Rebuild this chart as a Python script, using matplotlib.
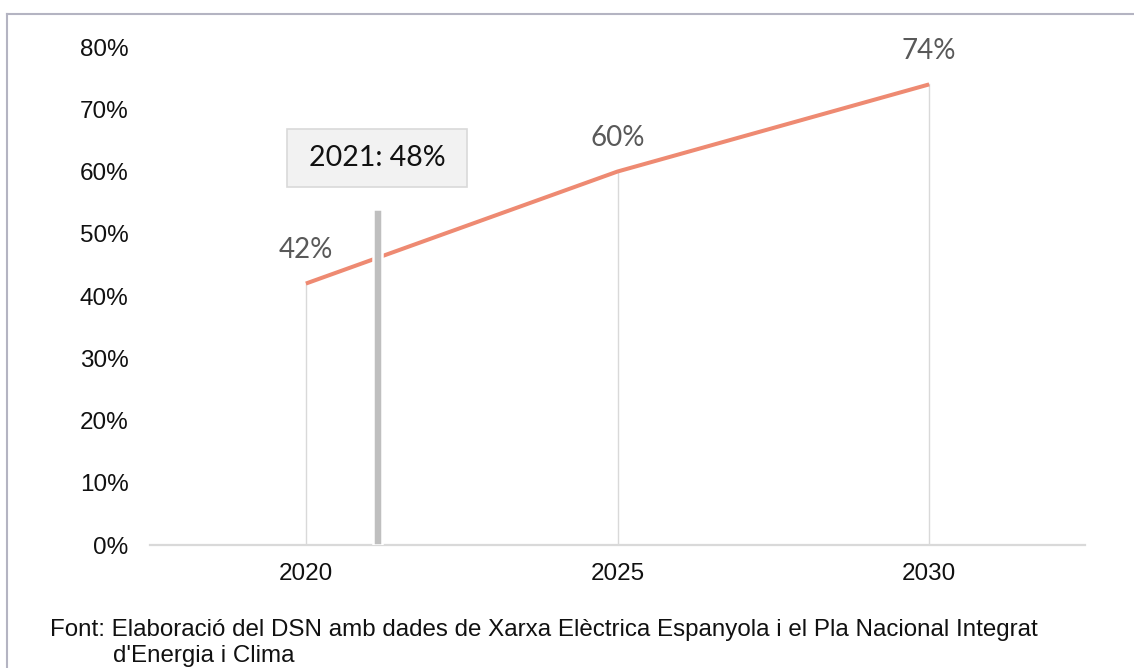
import matplotlib
matplotlib.use("Agg")
import matplotlib.pyplot as plt
from matplotlib.patches import Rectangle
from matplotlib.lines import Line2D
from matplotlib.ticker import FuncFormatter

# Renewable share of electricity generation (%)
years = [2020, 2025, 2030]
share = [42, 60, 74]

# Current-year marker
current_year = 2021.15
current_label = "2021: 48%"
current_bar_height = 54

y_ticks = [0, 10, 20, 30, 40, 50, 60, 70, 80]
source_lines = [
    "Font: Elaboració del DSN amb dades de Xarxa Elèctrica Espanyola i el Pla Nacional Integrat",
    "d'Energia i Clima",
]

LINE_COLOR = "#ee8a72"
AXIS_GRAY = "#d9d9d9"
LABEL_GRAY = "#595959"

fig = plt.figure(figsize=(11.34, 6.68), dpi=100)
ax = fig.add_axes([0.1323, 0.1841, 0.8245, 0.7455])

# drop lines from each point to the axis
for x, y in zip(years, share):
    ax.plot([x, x], [0, y], color=AXIS_GRAY, lw=1.0, zorder=1)

ax.plot(years, share, color=LINE_COLOR, lw=2.9, solid_capstyle="butt", zorder=2)

# gray marker bar for the current year, white edge cuts the line
ax.bar([current_year], [current_bar_height], width=0.152, color="#bfbfbf",
       edgecolor="white", linewidth=1.8, zorder=4)

for x, y in zip(years, share):
    ax.annotate(f"{y}%", (x, y), xytext=(0, 15), textcoords="offset points",
                ha="center", va="bottom", fontsize=20, color=LABEL_GRAY,
                family="Lato")

# label box above the marker
ax.add_patch(Rectangle((2019.70, 57.5), 2.88, 9.3, facecolor="#f2f2f2",
                       edgecolor=AXIS_GRAY, lw=1.2, zorder=5))
ax.text(current_year, 62.2, current_label, ha="center", va="center",
        fontsize=20.5, color="#111111", family="Lato", zorder=6)

ax.set_xlim(2017.5, 2032.5)
ax.set_ylim(0, 80)
ax.set_xticks(years)
ax.set_yticks(y_ticks)
ax.yaxis.set_major_formatter(FuncFormatter(lambda v, _: f"{v:.0f}%"))
ax.tick_params(length=0, labelsize=17.5, labelcolor="#111111")
ax.tick_params(axis="y", pad=15.5)
ax.tick_params(axis="x", pad=13)
for lab in ax.get_xticklabels() + ax.get_yticklabels():
    lab.set_family("Liberation Sans")

for side in ["top", "right", "left"]:
    ax.spines[side].set_visible(False)
ax.spines["bottom"].set_color(AXIS_GRAY)
ax.spines["bottom"].set_linewidth(1.6)
ax.spines["bottom"].set_zorder(3)

# source note
fig.text(50 / 1134, 1 - 630 / 668, source_lines[0], ha="left", va="center",
         fontsize=17.4, family="Liberation Sans", color="#111111")
fig.text(113 / 1134, 1 - 656 / 668, source_lines[1], ha="left", va="center",
         fontsize=17.4, family="Liberation Sans", color="#111111")

# frame lines on top and left
fig.add_artist(Line2D([7 / 1134, 1], [1 - 14 / 668, 1 - 14 / 668],
                      color="#b4b4c2", lw=1.5))
fig.add_artist(Line2D([7 / 1134, 7 / 1134], [0, 1 - 14 / 668],
                      color="#b4b4c2", lw=1.5))

fig.savefig("out.png", dpi=100)
